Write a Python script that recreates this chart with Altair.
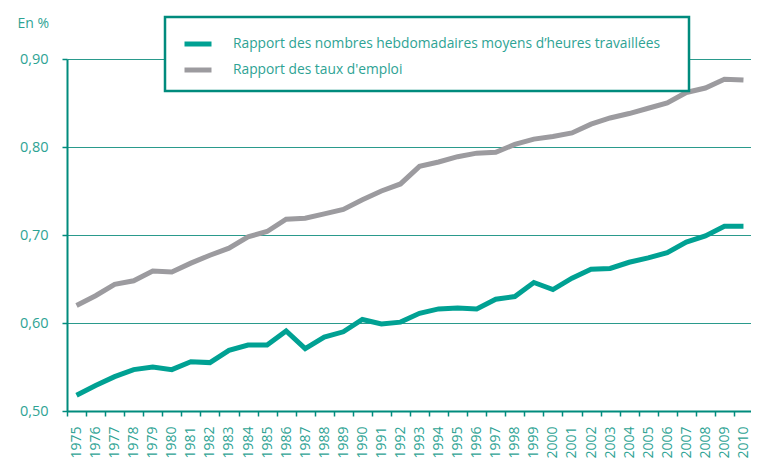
import altair as alt
import pandas as pd

years = list(range(1975, 2011))
heures = [0.518, 0.529, 0.539, 0.547, 0.550, 0.547, 0.556, 0.555, 0.569, 0.575,
          0.575, 0.591, 0.571, 0.584, 0.590, 0.604, 0.599, 0.601, 0.611, 0.616,
          0.617, 0.616, 0.627, 0.630, 0.646, 0.638, 0.651, 0.661, 0.662, 0.669,
          0.674, 0.680, 0.692, 0.699, 0.710, 0.710]
emploi = [0.620, 0.631, 0.644, 0.648, 0.659, 0.658, 0.668, 0.677, 0.685, 0.698,
          0.704, 0.718, 0.719, 0.724, 0.729, 0.740, 0.750, 0.758, 0.778, 0.783,
          0.789, 0.793, 0.794, 0.803, 0.809, 0.812, 0.816, 0.826, 0.833, 0.838,
          0.844, 0.850, 0.862, 0.867, 0.877, 0.876]
series_names = ["Rapport des nombres hebdomadaires moyens d\u2019heures travaillées",
                "Rapport des taux d'emploi"]
series_colors = ["#00a193", "#9c9b9f"]
y_ticks = [0.5, 0.6, 0.7, 0.8, 0.9]

df = pd.concat([
    pd.DataFrame({"year": years, "value": heures, "serie": series_names[0]}),
    pd.DataFrame({"year": years, "value": emploi, "serie": series_names[1]}),
])

TEAL = "#008b7d"
TEXT = "#2ea394"
FONT = "Open Sans"

chart = alt.Chart(df).mark_line(strokeWidth=5, strokeCap="butt").encode(
    x=alt.X("year:O", title=None,
            scale=alt.Scale(type="band", paddingInner=0, paddingOuter=0),
            axis=alt.Axis(tickBand="extent", labelAngle=-90, labelPadding=10,
                          tickSize=5, grid=False, domainColor=TEAL, domainWidth=2,
                          tickColor=TEAL, tickWidth=1.5, labelColor=TEXT,
                          labelFontSize=14, labelFont=FONT)),
    y=alt.Y("value:Q",
            scale=alt.Scale(domain=[0.5, 0.9], nice=False, zero=False),
            axis=alt.Axis(values=y_ticks, title="En %", titleAngle=0,
                          titleAlign="left", titleBaseline="middle",
                          titleX=-50, titleY=-36, titleColor=TEXT,
                          titleFontSize=14, titleFontWeight="normal", titleFont=FONT,
                          labelExpr="replace(format(datum.value, '.2f'), '.', ',')",
                          labelPadding=14, tickSize=5, labelColor=TEXT,
                          labelFontSize=14.5, labelFont=FONT,
                          grid=True, gridColor="#2a9a8c", gridWidth=1,
                          domainColor=TEAL, domainWidth=2, tickColor=TEAL, tickWidth=1.5)),
    color=alt.Color("serie:N",
                    scale=alt.Scale(domain=series_names, range=series_colors),
                    legend=alt.Legend(orient="none", legendX=98, legendY=-42,
                                      title=" ", titleOrient="right", titlePadding=18,
                                      titleFontSize=2,
                                      symbolType="stroke", symbolSize=729,
                                      symbolStrokeWidth=5, symbolOffset=6,
                                      labelOffset=19, labelColor=TEXT,
                                      labelFontSize=13.8, labelFont=FONT,
                                      labelLimit=600, rowPadding=0,
                                      padding=11, strokeColor=TEAL,
                                      fillColor="white")),
).properties(
    width=686, height=352,
    autosize=alt.AutoSizeParams(type="none"),
    padding={"left": 59, "top": 51, "right": -2, "bottom": 47},
).configure_view(stroke=None).configure_legend(strokeWidth=2.5)

chart.save("out.html", embed_options={"renderer": "svg", "actions": False})
